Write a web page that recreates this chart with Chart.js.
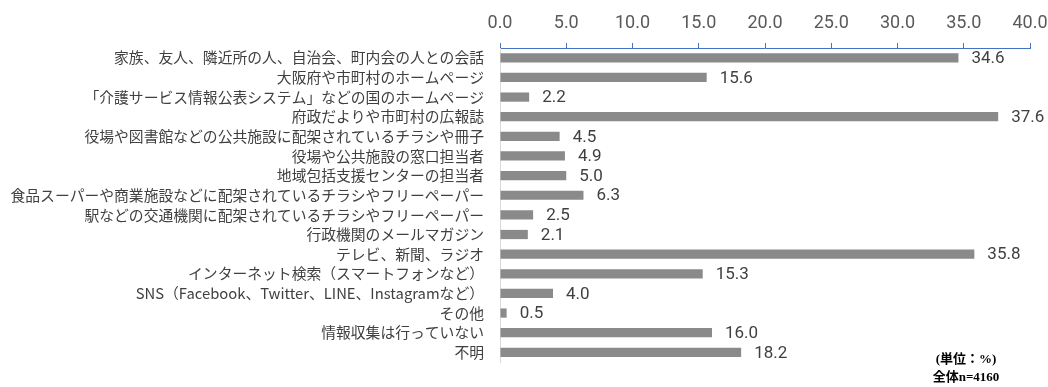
<!DOCTYPE html>
<html lang="ja">
<head>
<meta charset="utf-8">
<title>情報収集の方法</title>
<script src="https://cdn.jsdelivr.net/npm/chart.js@4/dist/chart.umd.min.js"></script>
<style>
  html, body { margin: 0; padding: 0; background: #ffffff; }
  #wrap { position: relative; width: 1048px; height: 387px; }
</style>
</head>
<body>
<div id="wrap"><canvas id="info-chart" width="1048" height="387"></canvas></div>
<script>
( function () {
    'use strict';

    var categories = [
        '家族、友人、隣近所の人、自治会、町内会の人との会話',
        '大阪府や市町村のホームページ',
        '「介護サービス情報公表システム」などの国のホームページ',
        '府政だよりや市町村の広報誌',
        '役場や図書館などの公共施設に配架されているチラシや冊子',
        '役場や公共施設の窓口担当者',
        '地域包括支援センターの担当者',
        '食品スーパーや商業施設などに配架されているチラシやフリーペーパー',
        '駅などの交通機関に配架されているチラシやフリーペーパー',
        '行政機関のメールマガジン',
        'テレビ、新聞、ラジオ',
        'インターネット検索（スマートフォンなど）',
        'SNS（Facebook、Twitter、LINE、Instagramなど）',
        'その他',
        '情報収集は行っていない',
        '不明'
    ];
    var values = [ 34.6, 15.6, 2.2, 37.6, 4.5, 4.9, 5.0, 6.3, 2.5, 2.1, 35.8, 15.3, 4.0, 0.5, 16.0, 18.2 ];
    var axisMin = 0;
    var axisMax = 40;
    var axisStep = 5;
    var noteLines = [ '(単位：%)', '全体n=4160' ];

    var axisBlue = '#4472c4';
    var textGray = '#404040';

    // value text to the right of each bar
    var barValues = {
        id: 'barValues',
        afterDatasetsDraw: function ( chart ) {
            var ctx = chart.ctx;
            var meta = chart.getDatasetMeta( 0 );
            ctx.save();
            ctx.font = '17px Roboto, "Noto Sans", sans-serif';
            ctx.fillStyle = textGray;
            ctx.textAlign = 'left';
            ctx.textBaseline = 'middle';
            meta.data.forEach( function ( bar, i ) {
                ctx.fillText( values[ i ].toFixed( 1 ), bar.x + 13, bar.y + 1 );
            } );
            ctx.restore();
        }
    };

    // unit / sample size note, bottom right
    var note = {
        id: 'note',
        afterDraw: function ( chart ) {
            var ctx = chart.ctx;
            ctx.save();
            ctx.font = 'bold 13px "Liberation Serif", "Noto Sans CJK JP", serif';
            ctx.fillStyle = '#000000';
            ctx.textAlign = 'center';
            ctx.textBaseline = 'middle';
            ctx.fillText( noteLines[ 0 ], 966, 360 );
            ctx.fillText( noteLines[ 1 ], 966, 378 );
            ctx.restore();
        }
    };

    new Chart( document.getElementById( 'info-chart' ), {
        type: 'bar',
        data: {
            labels: categories,
            datasets: [ {
                data: values,
                backgroundColor: '#8a8a8a',
                borderWidth: 0,
                barPercentage: 0.47,
                categoryPercentage: 1.0
            } ]
        },
        options: {
            indexAxis: 'y',
            responsive: false,
            animation: false,
            devicePixelRatio: 1,
            layout: { padding: { top: 0, right: 18, bottom: 16, left: 0 } },
            plugins: {
                legend: { display: false },
                tooltip: { enabled: false }
            },
            scales: {
                x: {
                    position: 'top',
                    min: axisMin,
                    max: axisMax,
                    afterFit: function ( scale ) {
                        scale.height = 48;
                        // the end labels may hang past the plot edge
                        scale.paddingLeft = 0;
                        scale.paddingRight = 0;
                    },
                    grid: {
                        drawOnChartArea: false,
                        drawTicks: true,
                        tickLength: 5,
                        color: axisBlue
                    },
                    border: { display: true, color: axisBlue, width: 1 },
                    ticks: {
                        stepSize: axisStep,
                        padding: 9,
                        maxRotation: 0,
                        color: '#595959',
                        font: { family: 'Roboto, "Noto Sans", sans-serif', size: 18 },
                        callback: function ( v ) { return Number( v ).toFixed( 1 ); }
                    }
                },
                y: {
                    afterFit: function ( scale ) { scale.width = 500; },
                    grid: { display: false, drawTicks: false },
                    border: { display: true, color: '#d9d9d9', width: 1 },
                    ticks: {
                        padding: 16,
                        autoSkip: false,
                        color: textGray,
                        font: { family: '"Noto Sans CJK JP", "Noto Sans", sans-serif', size: 14.8 }
                    }
                }
            }
        },
        plugins: [ barValues, note ]
    } );
} )();
</script>
</body>
</html>
